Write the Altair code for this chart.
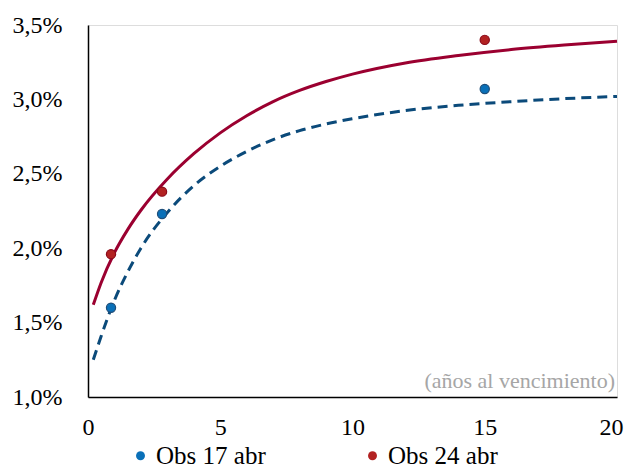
import altair as alt
import pandas as pd

# Observed points
obs_x = [0.87, 2.8, 15.0]
obs_17 = [1.60, 2.23, 3.07]
obs_24 = [1.96, 2.38, 3.40]

# Fitted curves
curve_x = [0.2, 0.5, 1, 1.5, 2, 3, 4, 5, 6, 7, 8, 9, 10, 12, 14, 16, 18, 20]
curve_24 = [1.62, 1.77, 1.97, 2.125, 2.255, 2.465, 2.635, 2.775, 2.89, 2.985, 3.06, 3.12, 3.17, 3.245, 3.295, 3.335, 3.365, 3.39]
curve_17 = [1.25, 1.41, 1.65, 1.84, 2.00, 2.24, 2.42, 2.55, 2.65, 2.73, 2.79, 2.835, 2.87, 2.925, 2.96, 2.985, 3.005, 3.02]

series = ["Obs 17 abr", "Obs 24 abr"]
FONT = "Liberation Serif"

pts = pd.DataFrame(
    [{"x": x, "y": y, "s": series[0]} for x, y in zip(obs_x, obs_17)]
    + [{"x": x, "y": y, "s": series[1]} for x, y in zip(obs_x, obs_24)]
)
c17 = pd.DataFrame({"x": curve_x, "y": curve_17})
c24 = pd.DataFrame({"x": curve_x, "y": curve_24})

W, H = 529, 372

xs = alt.Scale(domain=[0, 20], nice=False)
ys = alt.Scale(domain=[1.0, 3.5], nice=False)

xax = alt.Axis(values=[0, 5, 10, 15, 20], title=None, grid=False, ticks=False,
               domainColor="#000000", domainWidth=1.5, labelFont=FONT,
               labelFontSize=24, labelColor="#000000", labelPadding=18,
               labelFlush=True, labelFlushOffset=6)
yax = alt.Axis(values=[1.0, 1.5, 2.0, 2.5, 3.0, 3.5], title=None, grid=False, ticks=False,
               domainColor="#000000", domainWidth=1.5, labelFont=FONT,
               labelFontSize=24, labelColor="#000000", labelPadding=26,
               labelExpr="replace(format(datum.value, '.1f'), '.', ',') + '%'")

line24 = alt.Chart(c24).mark_line(color="#9B0030", strokeWidth=3, interpolate="monotone").encode(
    x=alt.X("x:Q", scale=xs, axis=xax),
    y=alt.Y("y:Q", scale=ys, axis=yax),
)
line17 = alt.Chart(c17).mark_line(color="#0B4A7A", strokeWidth=3, strokeDash=[10, 6],
                                  interpolate="monotone").encode(
    x=alt.X("x:Q", scale=xs),
    y=alt.Y("y:Q", scale=ys),
)
points = alt.Chart(pts).mark_point(filled=True, size=85, opacity=1, strokeWidth=1.2).encode(
    x=alt.X("x:Q", scale=xs),
    y=alt.Y("y:Q", scale=ys),
    fill=alt.Fill("s:N", scale=alt.Scale(domain=series, range=["#0A70B8", "#B22222"]),
                  legend=alt.Legend(title=None, orient="none", direction="horizontal",
                                    legendX=40, legendY=418, labelFont=FONT, labelFontSize=25,
                                    labelColor="#000000", symbolType="circle", symbolSize=80,
                                    labelOffset=3, columnPadding=94, symbolStrokeWidth=0)),
    stroke=alt.Stroke("s:N", scale=alt.Scale(domain=series, range=["#1F4E79", "#8B0A1A"]),
                      legend=None),
)
note = alt.Chart(pd.DataFrame({"t": ["(años al vencimiento)"]})).mark_text(
    align="right", baseline="alphabetic", font=FONT, fontSize=22, color="#A6A6A6"
).encode(x=alt.value(W - 2), y=alt.value(H - 9), text="t:N")

chart = alt.layer(line24, line17, points, note).properties(
    width=W, height=H,
    autosize=alt.AutoSizeParams(type="none"),
    padding={"left": 80, "top": 17, "right": 7, "bottom": 69},
).configure_view(stroke=None).configure(background="white")

chart.save("out.html", embed_options={"renderer": "svg", "actions": False})
